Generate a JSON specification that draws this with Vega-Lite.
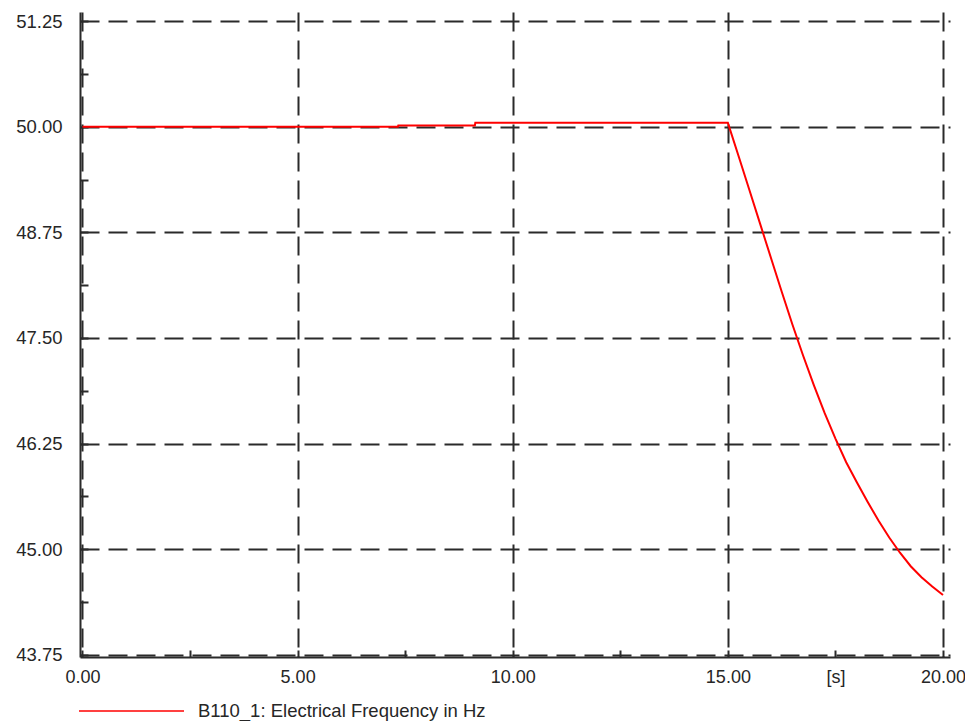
{
  "$schema": "https://vega.github.io/schema/vega-lite/v6.json",
  "autosize": {"type": "none"},
  "padding": {"left": 80, "top": 12, "right": 15, "bottom": 64},
  "width": 870,
  "height": 645,
  "background": "white",
  "config": {"view": {"stroke": null}, "font": "Liberation Sans"},
  "data": {"values": [
    {"t": 0, "f": 50.0, "s": "B110_1: Electrical Frequency in Hz"},
    {"t": 7.33, "f": 50.0, "s": "B110_1: Electrical Frequency in Hz"},
    {"t": 7.34, "f": 50.015, "s": "B110_1: Electrical Frequency in Hz"},
    {"t": 9.12, "f": 50.015, "s": "B110_1: Electrical Frequency in Hz"},
    {"t": 9.13, "f": 50.045, "s": "B110_1: Electrical Frequency in Hz"},
    {"t": 15.0, "f": 50.045, "s": "B110_1: Electrical Frequency in Hz"},
    {"t": 15.25, "f": 49.65, "s": "B110_1: Electrical Frequency in Hz"},
    {"t": 15.5, "f": 49.25, "s": "B110_1: Electrical Frequency in Hz"},
    {"t": 15.75, "f": 48.85, "s": "B110_1: Electrical Frequency in Hz"},
    {"t": 16.0, "f": 48.45, "s": "B110_1: Electrical Frequency in Hz"},
    {"t": 16.25, "f": 48.05, "s": "B110_1: Electrical Frequency in Hz"},
    {"t": 16.5, "f": 47.66, "s": "B110_1: Electrical Frequency in Hz"},
    {"t": 16.75, "f": 47.29, "s": "B110_1: Electrical Frequency in Hz"},
    {"t": 17.0, "f": 46.94, "s": "B110_1: Electrical Frequency in Hz"},
    {"t": 17.25, "f": 46.61, "s": "B110_1: Electrical Frequency in Hz"},
    {"t": 17.5, "f": 46.31, "s": "B110_1: Electrical Frequency in Hz"},
    {"t": 17.75, "f": 46.03, "s": "B110_1: Electrical Frequency in Hz"},
    {"t": 18.0, "f": 45.79, "s": "B110_1: Electrical Frequency in Hz"},
    {"t": 18.25, "f": 45.56, "s": "B110_1: Electrical Frequency in Hz"},
    {"t": 18.5, "f": 45.34, "s": "B110_1: Electrical Frequency in Hz"},
    {"t": 18.75, "f": 45.14, "s": "B110_1: Electrical Frequency in Hz"},
    {"t": 19.0, "f": 44.96, "s": "B110_1: Electrical Frequency in Hz"},
    {"t": 19.25, "f": 44.8, "s": "B110_1: Electrical Frequency in Hz"},
    {"t": 19.5, "f": 44.67, "s": "B110_1: Electrical Frequency in Hz"},
    {"t": 19.75, "f": 44.56, "s": "B110_1: Electrical Frequency in Hz"},
    {"t": 20.0, "f": 44.46, "s": "B110_1: Electrical Frequency in Hz"}
  ]},
  "mark": {"type": "line", "strokeWidth": 2, "interpolate": "linear"},
  "encoding": {
    "x": {
      "field": "t", "type": "quantitative",
      "scale": {"domain": [-0.0581, 20.1627], "nice": false, "zero": false},
      "axis": {
        "title": null,
        "values": [0, 2.5, 5, 7.5, 10, 12.5, 15, 17.5, 20],
        "labelExpr": "datum.value == 17.5 ? '[s]' : (datum.value % 5 == 0 ? format(datum.value, '.2f') : '')",
        "labelFlush": false,
        "labelOverlap": false,
        "labelFont": "Liberation Sans",
        "labelFontSize": 18,
        "labelColor": "#262626",
        "labelPadding": 18,
        "tickSize": -7,
        "tickWidth": 2,
        "tickColor": "#2a2a2a",
        "domainColor": "#2a2a2a",
        "domainWidth": 2,
        "grid": true,
        "gridColor": "#2a2a2a",
        "gridWidth": 2,
        "gridDash": [19, 9],
        "gridOpacity": {"condition": {"test": "datum.value % 5 == 0", "value": 1}, "value": 0}
      }
    },
    "y": {
      "field": "f", "type": "quantitative",
      "scale": {"domain": [43.7263, 51.3565], "nice": false, "zero": false},
      "axis": {
        "title": null,
        "values": [43.75, 44.375, 45, 45.625, 46.25, 46.875, 47.5, 48.125, 48.75, 49.375, 50, 50.625, 51.25],
        "labelExpr": "abs(datum.value / 1.25 - round(datum.value / 1.25)) < 0.001 ? format(datum.value, '.2f') : ''",
        "labelOverlap": false,
        "labelFont": "Liberation Sans",
        "labelFontSize": 18.5,
        "labelColor": "#262626",
        "labelPadding": 26,
        "tickSize": -8,
        "tickWidth": 2,
        "tickColor": "#2a2a2a",
        "domainColor": "#2a2a2a",
        "domainWidth": 2,
        "grid": true,
        "gridColor": "#2a2a2a",
        "gridWidth": 2,
        "gridDash": [19, 9],
        "gridOpacity": {"condition": {"test": "abs(datum.value / 1.25 - round(datum.value / 1.25)) < 0.001", "value": 1}, "value": 0}
      }
    },
    "color": {
      "field": "s", "type": "nominal",
      "scale": {"domain": ["B110_1: Electrical Frequency in Hz"], "range": ["#ff0000"]},
      "legend": {
        "title": null,
        "orient": "none",
        "legendX": -2,
        "legendY": 645.5,
        "symbolType": "stroke",
        "symbolSize": 11025,
        "symbolStrokeWidth": 1.6,
        "labelFont": "Liberation Sans",
        "labelFontSize": 18.5,
        "labelColor": "#262626",
        "labelOffset": 13,
        "padding": 0,
        "labelLimit": 500
      }
    }
  }
}
